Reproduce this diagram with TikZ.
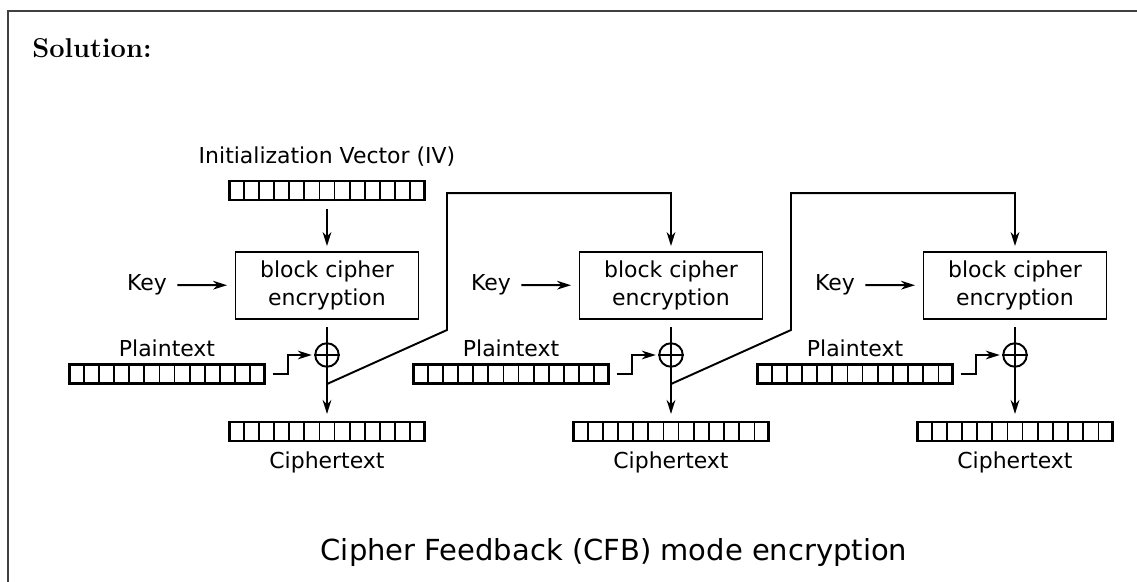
\documentclass[tikz,border=0pt]{standalone}
\usepackage{fontspec}
\newfontfamily\diagfont{DejaVu Sans}
\usetikzlibrary{positioning,calc,arrows.meta}

\tikzset{
  reg/.style={draw, line width=1.2pt, minimum width=3.9cm, minimum height=0.38cm, inner sep=0pt},
  cipherbox/.style={draw, line width=1.1pt, minimum width=3.66cm, minimum height=1.34cm, align=center, inner sep=0pt, font=\diagfont\fontsize{12.5}{16}\selectfont},
  lbl/.style={font=\diagfont\fontsize{12.5}{15}\selectfont, inner sep=0pt},
  xorgate/.style={circle, draw, line width=1.1pt, minimum size=0.47cm, inner sep=0pt},
  flow/.style={line width=1.1pt, -{Stealth[length=8pt,width=5pt]}},
  wire/.style={line width=1.1pt},
}

% shift register with 13 cells
\newcommand{\drawreg}[2]{%
  \node[reg] (#1) at #2 {};
  \foreach \k in {1,...,12}
    \draw[line width=1pt] ($(#1.south west)!\k/13!(#1.south east)$) -- ($(#1.north west)!\k/13!(#1.north east)$);
}

\begin{document}
\begin{tikzpicture}[x=0.02cm,y=-0.02cm]
    \useasboundingbox (0,0) rectangle (1137,582);
    \draw[line width=0.9pt, black!75] (1137,11) -- (8,11) -- (8,582); % frame

    \node[font=\bfseries\fontsize{15.5}{18}\selectfont, anchor=base west, inner sep=0pt] (sol) at (32,57) {Solution:};

    % initialization vector
    \node[lbl] (ivlabel) at (327,157) {Initialization Vector (IV)};
    \drawreg{iv}{(327,190.5)}

    \foreach \i in {0,1,2}{
        \pgfmathsetmacro{\cx}{327+\i*344} % centre of each stage
        \node[cipherbox] (blk\i) at (\cx,285.5) {block cipher\\encryption};
        \node[lbl] (key\i) at (\cx-180,285) {Key};
        \draw[flow, shorten <=0.2cm, shorten >=0.15cm] (key\i) -- (blk\i);

        \node[xorgate] (xor\i) at (\cx,355) {};
        \draw[wire] (xor\i.west) -- (xor\i.east);

        \drawreg{pt\i}{(\cx-160,374)}
        \node[lbl] (ptlabel\i) at (\cx-160,348) {Plaintext};
        \drawreg{ct\i}{(\cx,431.5)}
        \node[lbl] (ctlabel\i) at (\cx,462) {Ciphertext};

        \draw[flow] ($(blk\i.south)+(0,7)$) -- ($(ct\i.north)+(0,-7)$); % output through xor
        \draw[flow, shorten >=0.05cm] ($(pt\i.east)+(7,0)$) -- ++(15,0) |- (xor\i.west); % plaintext into xor
        \coordinate (tap\i) at (\cx,384);
    }

    \draw[flow] ($(iv.south)+(0,8)$) -- ($(blk0.north)+(0,-5)$);

    % feedback of ciphertext into the next stage
    \foreach \i/\j in {0/1,1/2}{
        \coordinate (fb\i) at ($(tap\i)+(120,-54)$);
        \coordinate (hook\i) at ($(blk\j.north)+(0,-58)$);
        \draw[flow] (tap\i) -- (fb\i) |- (hook\i) -- ($(blk\j.north)+(0,-5)$);
    }

    \node[font=\diagfont\fontsize{16.5}{20}\selectfont] (title) at (614,552) {Cipher Feedback (CFB) mode encryption};
\end{tikzpicture}
\end{document}
